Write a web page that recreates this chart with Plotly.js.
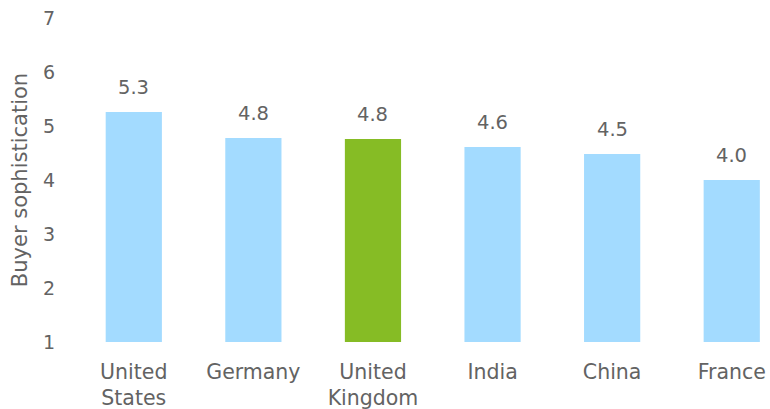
<!DOCTYPE html>
<html>
<head>
<meta charset="utf-8">
<script src="https://cdn.plot.ly/plotly-3.0.1.min.js"></script>
<style>html,body{margin:0;padding:0;background:#fff;}#chart{width:770px;height:409px;}</style>
</head>
<body>
<div id="chart"></div>
<script>
const categories = ["United<br>States", "Germany", "United<br>Kingdom", "India", "China", "France"];
const values = [5.26, 4.78, 4.76, 4.61, 4.48, 4.0];
const barColors = ["#a3dbff", "#a3dbff", "#86bc25", "#a3dbff", "#a3dbff", "#a3dbff"];
const yTicks = [1, 2, 3, 4, 5, 6, 7];
const yTitle = "Buyer sophistication";

const textColor = "#636363";
const fontFamily = "DejaVu Sans, Verdana, sans-serif";

const trace = {
  type: "bar",
  x: categories,
  y: values.map(v => v - 1),
  base: 1,
  marker: { color: barColors },
  width: 0.47,
  hoverinfo: "skip"
};

const annotations = categories.map((c, i) => ({
  x: c, y: values[i], xref: "x", yref: "y",
  text: values[i].toFixed(1),
  showarrow: false, yanchor: "bottom", yshift: 11,
  font: { family: fontFamily, size: 19.5, color: textColor }
}));

const layout = {
  width: 770, height: 409,
  margin: { l: 74, r: 0, t: 18, b: 67 },
  paper_bgcolor: "#ffffff", plot_bgcolor: "#ffffff",
  showlegend: false,
  font: { family: fontFamily, size: 19, color: textColor },
  xaxis: {
    type: "category",
    range: [-0.5, 5.32],
    showgrid: false, zeroline: false, showline: false,
    ticks: "", ticklabelstandoff: 15,
    tickfont: { family: fontFamily, size: 20.5, color: textColor }
  },
  yaxis: {
    range: [1, 7],
    tickvals: yTicks,
    showgrid: false, zeroline: false, showline: false,
    ticks: "", ticklabelstandoff: 18,
    tickfont: { family: fontFamily, size: 19, color: textColor },
    title: { text: yTitle, standoff: 9, font: { family: fontFamily, size: 21, color: textColor } }
  },
  annotations: annotations
};

Plotly.newPlot("chart", [trace], layout, { staticPlot: true, displayModeBar: false });
</script>
</body>
</html>
